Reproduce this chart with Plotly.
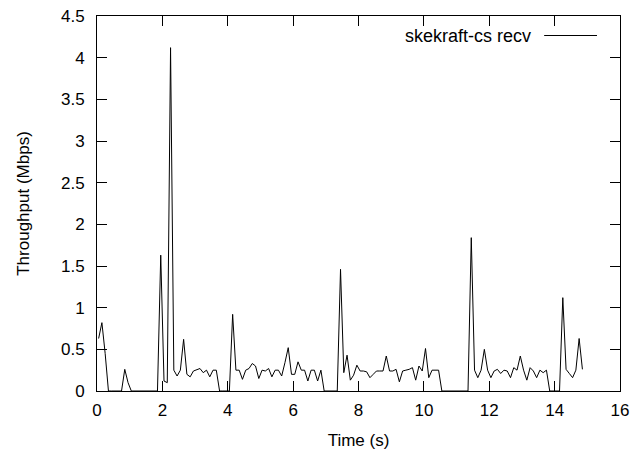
import plotly.graph_objects as go

# Throughput samples (Mbps), one every 0.1 s starting at 0.05 s
throughput = [
    0.63, 0.82, 0.45, 0, 0, 0, 0, 0, 0.26, 0.10,
    0, 0, 0, 0, 0, 0, 0, 0, 0, 1.63,
    0.12, 0.10, 4.12, 0.25, 0.18, 0.25, 0.62, 0.20, 0.17, 0.24,
    0.26, 0.27, 0.22, 0.25, 0.17, 0.25, 0.25, 0, 0, 0,
    0, 0.92, 0.25, 0.25, 0.14, 0.25, 0.27, 0.33, 0.30, 0.15,
    0.25, 0.24, 0.27, 0.17, 0.25, 0.25, 0.18, 0.34, 0.52, 0.20,
    0.20, 0.35, 0.25, 0.25, 0.12, 0.25, 0.25, 0.12, 0.25, 0,
    0, 0, 0, 0, 1.46, 0.22, 0.43, 0.13, 0.19, 0.31,
    0.24, 0.24, 0.23, 0.16, 0.20, 0.24, 0.24, 0.24, 0.42, 0.24,
    0.24, 0.26, 0.11, 0.24, 0.25, 0.26, 0.28, 0.13, 0.30, 0.24,
    0.51, 0.16, 0.25, 0.25, 0.25, 0, 0, 0, 0, 0,
    0, 0, 0, 0, 1.84, 0.25, 0.16, 0.25, 0.50, 0.25,
    0.16, 0.24, 0.26, 0.21, 0.25, 0.24, 0.16, 0.28, 0.25, 0.42,
    0.25, 0.13, 0.28, 0.24, 0.16, 0.25, 0.22, 0.25, 0, 0,
    0, 0, 1.12, 0.26, 0.21, 0.16, 0.25, 0.63, 0.26,
]
t_start = 0.05
t_step = 0.1
time_s = [round(t_start + t_step * i, 2) for i in range(len(throughput))]

series_name = "skekraft-cs recv"
x_ticks = [0, 2, 4, 6, 8, 10, 12, 14, 16]
y_ticks = [0, 0.5, 1, 1.5, 2, 2.5, 3, 3.5, 4, 4.5]

FONT = "Liberation Sans, Arial, sans-serif"
FS = 17

fig = go.Figure()
fig.add_trace(go.Scatter(
    x=time_s, y=throughput, mode="lines", name=series_name,
    line=dict(color="black", width=1), showlegend=False,
))

axis_common = dict(
    showline=True, linecolor="black", linewidth=1, mirror="ticks",
    ticks="inside", ticklen=10, tickcolor="black", tickwidth=1,
    showgrid=False, zeroline=False,
    tickfont=dict(family=FONT, size=FS, color="black"),
)

fig.update_xaxes(range=[0, 16], tickvals=x_ticks,
                 ticktext=[str(v) for v in x_ticks],
                 title=dict(text="Time (s)", font=dict(family=FONT, size=FS, color="black"), standoff=14),
                 ticklabelstandoff=4, **axis_common)
fig.update_yaxes(range=[0, 4.5], tickvals=y_ticks,
                 ticktext=[("%g" % v) for v in y_ticks],
                 title=dict(text="Throughput (Mbps)", font=dict(family=FONT, size=FS, color="black"), standoff=27),
                 ticklabelstandoff=8, **axis_common)

# gnuplot-style key: text to the left of the line sample
fig.add_annotation(xref="paper", yref="paper", x=0.834, y=0.948,
                   text=series_name, showarrow=False, xanchor="right", yanchor="middle",
                   font=dict(family=FONT, size=FS + 1, color="black"))
fig.add_shape(type="line", xref="paper", yref="paper", x0=0.855, x1=0.956,
              y0=0.948, y1=0.948, line=dict(color="black", width=1))

fig.update_layout(
    width=631, height=451,
    margin=dict(l=97, r=11, t=16, b=60, autoexpand=False),
    paper_bgcolor="white", plot_bgcolor="white",
)

fig.write_html("out.html")
